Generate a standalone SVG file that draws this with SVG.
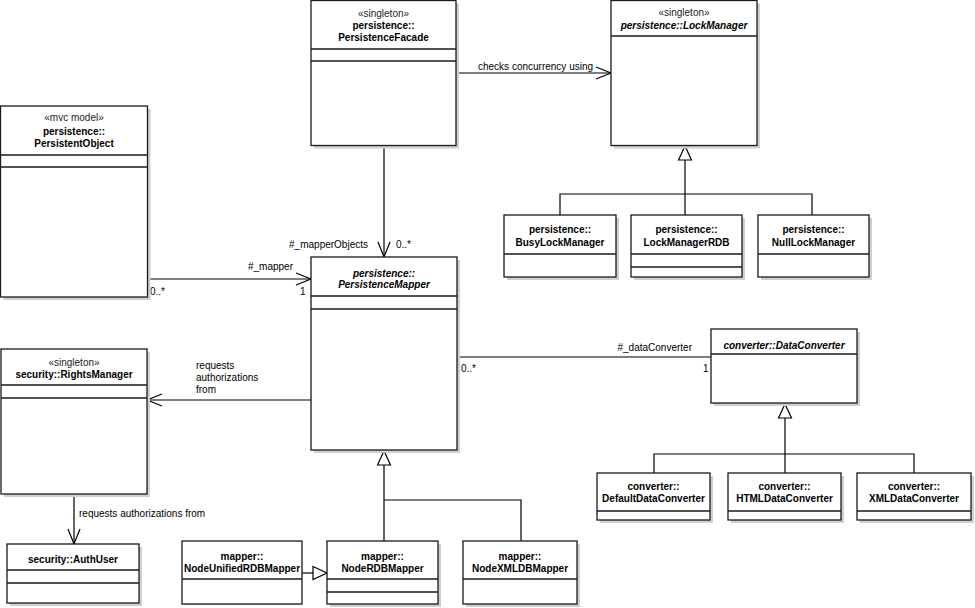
<svg xmlns="http://www.w3.org/2000/svg" width="975" height="608" viewBox="0 0 975 608">
<style>
.sh{fill:#cfcfcf;stroke:none}
.bx{fill:#fff;stroke:#1a1a1a;stroke-width:1.3}
.dv{stroke:#1a1a1a;stroke-width:1.3;fill:none}
.c{stroke:#000;stroke-width:1.2;fill:none}
text{font-family:"Liberation Sans",Arial,sans-serif;font-size:10px;fill:#000}
.t{text-anchor:middle}
.b{font-weight:bold;font-size:10px}
.i{font-style:italic}
.st{fill:#222}
</style>
<defs>
<marker id="op" markerUnits="userSpaceOnUse" markerWidth="18" markerHeight="16" refX="15" refY="7" orient="auto" overflow="visible">
<path d="M0,1 L15,7 L0,13" fill="none" stroke="#000" stroke-width="1.2"/>
</marker>
<marker id="gen" markerUnits="userSpaceOnUse" markerWidth="18" markerHeight="16" refX="14" refY="6.5" orient="auto" overflow="visible">
<path d="M0,0 L14,6.5 L0,13 Z" fill="#fff" stroke="#000" stroke-width="1.2"/>
</marker>
</defs>

<g id="connectors">
<path class="c" d="M456,73 H611" marker-end="url(#op)"/>
<path class="c" d="M384,145 V257" marker-end="url(#op)"/>
<path class="c" d="M147,279 H311" marker-end="url(#op)"/>
<path class="c" d="M311,400 H147" marker-end="url(#op)"/>
<path class="c" d="M74,494 V544" marker-end="url(#op)"/>
<path class="c" d="M457,357 H711"/>
<path class="c" d="M685,215 V146" marker-end="url(#gen)"/>
<path class="c" d="M560,215 V194 H812 V215"/>
<path class="c" d="M785,473 V404" marker-end="url(#gen)"/>
<path class="c" d="M654,473 V454 H914 V473"/>
<path class="c" d="M384,541 V451" marker-end="url(#gen)"/>
<path class="c" d="M384,500 H521 V541"/>
<path class="c" d="M302,573 H327" marker-end="url(#gen)"/>
<text x="478" y="70">checks concurrency using</text>
<text x="368" y="248" text-anchor="end">#_mapperObjects</text>
<text x="396" y="248">0..*</text>
<text x="293" y="270" text-anchor="end">#_mapper</text>
<text x="150" y="295">0..*</text>
<text x="300" y="295">1</text>
<text x="461" y="372">0..*</text>
<text x="692" y="351" text-anchor="end">#_dataConverter</text>
<text x="703" y="372">1</text>
<text x="196" y="369">requests</text>
<text x="196" y="381">authorizations</text>
<text x="196" y="393">from</text>
<text x="79" y="517">requests authorizations from</text>
</g>

<g id="PersistenceFacade">
<rect class="sh" x="314" y="3.5" width="145" height="145"/>
<rect class="bx" x="311" y="0.5" width="145" height="145"/>
<path class="dv" d="M311,49 H456 M311,61 H456"/>
<text class="t st" x="383.5" y="17">«singleton»</text>
<text class="t b" x="383.5" y="29">persistence::</text>
<text class="t b" x="383.5" y="41">PersistenceFacade</text>
</g>

<g id="LockManager">
<rect class="sh" x="614" y="3.5" width="146" height="145"/>
<rect class="bx" x="611" y="0.5" width="146" height="145"/>
<path class="dv" d="M611,36 H757"/>
<text class="t st" x="684" y="16">«singleton»</text>
<text class="t b i" x="684" y="29">persistence::LockManager</text>
</g>

<g id="BusyLockManager">
<rect class="sh" x="507" y="218" width="112" height="62"/>
<rect class="bx" x="504" y="215" width="112" height="62"/>
<path class="dv" d="M504,254 H616"/>
<text class="t b" x="560" y="233">persistence::</text>
<text class="t b" x="560" y="246">BusyLockManager</text>
</g>

<g id="LockManagerRDB">
<rect class="sh" x="634" y="218" width="111" height="62"/>
<rect class="bx" x="631" y="215" width="111" height="62"/>
<path class="dv" d="M631,254 H742 M631,267 H742"/>
<text class="t b" x="686.5" y="233">persistence::</text>
<text class="t b" x="686.5" y="246">LockManagerRDB</text>
</g>

<g id="NullLockManager">
<rect class="sh" x="761" y="218" width="111" height="62"/>
<rect class="bx" x="758" y="215" width="111" height="62"/>
<path class="dv" d="M758,254 H869"/>
<text class="t b" x="813.5" y="233">persistence::</text>
<text class="t b" x="813.5" y="246">NullLockManager</text>
</g>

<g id="PersistentObject">
<rect class="sh" x="3.5" y="109" width="147" height="191"/>
<rect class="bx" x="0.5" y="106" width="147" height="191"/>
<path class="dv" d="M0.5,155 H147.5 M0.5,167 H147.5"/>
<text class="t st" x="74" y="121">«mvc model»</text>
<text class="t b" x="74" y="135">persistence::</text>
<text class="t b" x="74" y="147">PersistentObject</text>
</g>

<g id="PersistenceMapper">
<rect class="sh" x="314" y="260" width="146" height="193"/>
<rect class="bx" x="311" y="257" width="146" height="193"/>
<path class="dv" d="M311,296 H457 M311,309 H457"/>
<text class="t b i" x="384" y="277">persistence::</text>
<text class="t b i" x="384" y="288">PersistenceMapper</text>
</g>

<g id="DataConverter">
<rect class="sh" x="714" y="332" width="146" height="74"/>
<rect class="bx" x="711" y="329" width="146" height="74"/>
<path class="dv" d="M711,354 H857"/>
<text class="t b i" x="784" y="349">converter::DataConverter</text>
</g>

<g id="DefaultDataConverter">
<rect class="sh" x="600" y="476" width="113" height="47"/>
<rect class="bx" x="597" y="473" width="113" height="47"/>
<path class="dv" d="M597,511 H710"/>
<text class="t b" x="653.5" y="490">converter::</text>
<text class="t b" x="653.5" y="502">DefaultDataConverter</text>
</g>

<g id="HTMLDataConverter">
<rect class="sh" x="731" y="476" width="113" height="47"/>
<rect class="bx" x="728" y="473" width="113" height="47"/>
<path class="dv" d="M728,511 H841"/>
<text class="t b" x="784.5" y="490">converter::</text>
<text class="t b" x="784.5" y="502">HTMLDataConverter</text>
</g>

<g id="XMLDataConverter">
<rect class="sh" x="860" y="476" width="114" height="47"/>
<rect class="bx" x="857" y="473" width="114" height="47"/>
<path class="dv" d="M857,511 H971"/>
<text class="t b" x="914" y="490">converter::</text>
<text class="t b" x="914" y="502">XMLDataConverter</text>
</g>

<g id="RightsManager">
<rect class="sh" x="4" y="352" width="146" height="145"/>
<rect class="bx" x="1" y="349" width="146" height="145"/>
<path class="dv" d="M1,385 H147 M1,398 H147"/>
<text class="t st" x="74" y="366">«singleton»</text>
<text class="t b" x="74" y="378">security::RightsManager</text>
</g>

<g id="AuthUser">
<rect class="sh" x="10" y="547" width="132" height="59"/>
<rect class="bx" x="7" y="544" width="132" height="59"/>
<path class="dv" d="M7,570 H139 M7,583 H139"/>
<text class="t b" x="73" y="563">security::AuthUser</text>
</g>

<g id="NodeUnifiedRDBMapper">
<rect class="sh" x="185" y="544" width="117" height="61"/>
<rect class="bx" x="182" y="541" width="120" height="63"/>
<path class="dv" d="M182,579 H302"/>
<text class="t b" x="242" y="560">mapper::</text>
<text class="t b" x="242" y="572">NodeUnifiedRDBMapper</text>
</g>

<g id="NodeRDBMapper">
<rect class="sh" x="330" y="544" width="111" height="63"/>
<rect class="bx" x="327" y="541" width="111" height="63"/>
<path class="dv" d="M327,579 H438 M327,592 H438"/>
<text class="t b" x="382.5" y="560">mapper::</text>
<text class="t b" x="382.5" y="572">NodeRDBMapper</text>
</g>

<g id="NodeXMLDBMapper">
<rect class="sh" x="466" y="544" width="114" height="63"/>
<rect class="bx" x="463" y="541" width="114" height="63"/>
<path class="dv" d="M463,579 H577"/>
<text class="t b" x="520" y="560">mapper::</text>
<text class="t b" x="520" y="572">NodeXMLDBMapper</text>
</g>
</svg>
